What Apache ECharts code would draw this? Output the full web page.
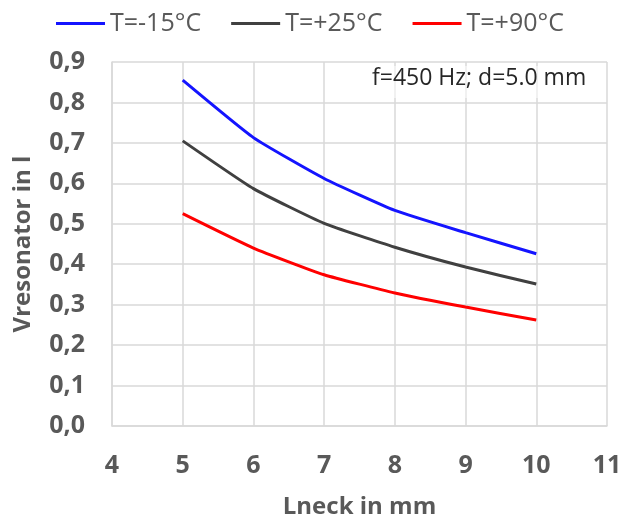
<!DOCTYPE html>
<html>
<head>
<meta charset="utf-8">
<script src="https://cdn.jsdelivr.net/npm/echarts@6/dist/echarts.min.js"></script>
<style>
  html, body { margin: 0; padding: 0; background: #fff; }
  #chart { width: 632px; height: 520px; }
</style>
</head>
<body>
<div id="chart"></div>
<script>
// Daten
const lneck = [5, 6, 7, 8, 9, 10];
const tMinus15 = [0.855, 0.713, 0.612, 0.533, 0.478, 0.426];
const tPlus25 = [0.705, 0.587, 0.501, 0.442, 0.393, 0.351];
const tPlus90 = [0.525, 0.440, 0.374, 0.329, 0.294, 0.262];
const seriesNames = ['T=-15°C', 'T=+25°C', 'T=+90°C'];
const seriesColors = ['#1414ff', '#404040', '#ff0000'];

const font = '"Open Sans", "Liberation Sans", sans-serif';
const grey = '#595959';

const toPairs = (ys) => lneck.map((x, i) => [x, ys[i]]);

let chart = echarts.init(document.getElementById('chart'));
chart.setOption({
    animation: false,
    textStyle: { fontFamily: font },
    legend: {
        top: 6,
        left: 51,
        itemWidth: 49,
        itemHeight: 3,
        itemGap: 30,
        icon: 'rect',
        textStyle: { fontSize: 25, color: grey, fontFamily: font },
        data: seriesNames
    },
    grid: { left: 112, right: 25, top: 62, bottom: 94, containLabel: false, outerBoundsMode: 'none' },
    xAxis: {
        type: 'value',
        min: 4,
        max: 11,
        interval: 1,
        name: 'Lneck in mm',
        nameLocation: 'middle',
        nameGap: 69,
        nameTextStyle: { verticalAlign: 'top', fontSize: 24, fontWeight: 'bold', color: grey, fontFamily: font },
        axisLine: { show: true, lineStyle: { color: '#d9d9d9', width: 1.5 } },
        axisTick: { show: false },
        axisLabel: { fontSize: 25, fontWeight: 'bold', color: grey, margin: 27, fontFamily: font },
        splitLine: { lineStyle: { color: '#d9d9d9', width: 1.5 } }
    },
    yAxis: {
        type: 'value',
        min: 0,
        max: 0.9,
        interval: 0.1,
        name: 'Vresonator in l',
        nameLocation: 'middle',
        nameGap: 77,
        nameTextStyle: { fontSize: 24, fontWeight: 'bold', color: grey, fontFamily: font },
        axisLine: { show: true, lineStyle: { color: '#d9d9d9', width: 1.5 } },
        axisTick: { show: false },
        axisLabel: {
            fontSize: 25, fontWeight: 'bold', color: grey, margin: 27, fontFamily: font,
            formatter: (v) => v.toFixed(1).replace('.', ',')
        },
        splitLine: { lineStyle: { color: '#d9d9d9', width: 1.5 } }
    },
    graphic: [
        {
            type: 'rect',
            shape: { x: 366, y: 66, width: 230, height: 32 },
            style: { fill: 'rgba(255,255,255,0.5)' },
            z: 5
        },
        {
            type: 'text',
            left: 372,
            top: 67,
            style: { text: 'f=450 Hz; d=5.0 mm', fontSize: 23, fill: '#262626', fontFamily: font },
            z: 6
        }
    ],
    series: [tMinus15, tPlus25, tPlus90].map((ys, i) => ({
        name: seriesNames[i],
        type: 'line',
        data: toPairs(ys),
        showSymbol: false,
        smooth: 0.15,
        color: seriesColors[i],
        lineStyle: { width: 3, color: seriesColors[i] }
    }))
});
</script>
</body>
</html>
